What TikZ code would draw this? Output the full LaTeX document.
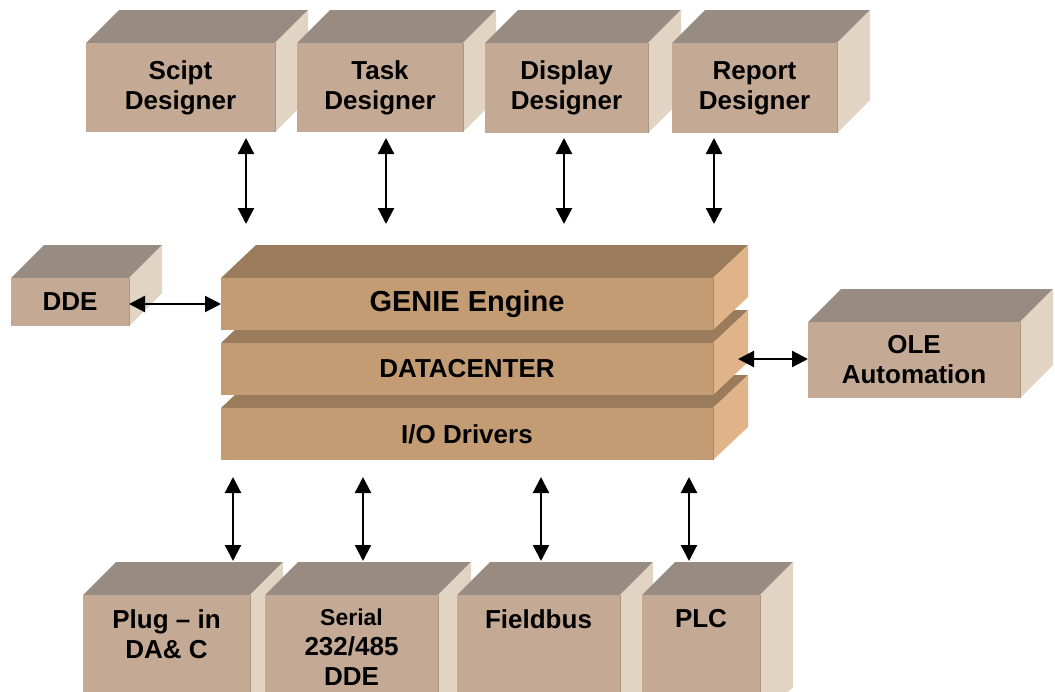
\documentclass[tikz,border=0pt]{standalone}
\usepackage{fontspec}
\setmainfont{Liberation Sans}
\usetikzlibrary{arrows.meta}

\definecolor{boxtop}{RGB}{152,140,130}
\definecolor{boxfront}{RGB}{196,170,148}
\definecolor{boxside}{RGB}{226,212,194}
\definecolor{coretop}{RGB}{154,123,92}
\definecolor{corefront}{RGB}{196,156,116}
\definecolor{coreside}{RGB}{224,180,136}

\tikzset{
  face/.style={inner sep=0, outer sep=0, draw=none},
  lbl/.style={font=\bfseries\fontsize{26}{30}\selectfont, align=center, inner xsep=0, inner ysep=14pt},
  link/.style={{Triangle[width=16pt,length=16pt]}-{Triangle[width=16pt,length=16pt]}, line width=2.3pt}
}

\def\bdx{33}
% 3D block: [text anchor]{name}{x1}{y1}{x2}{y2}{colour set}{text}
\newcommand{\block}[8][center]{%
  \fill[#7top] (#3,#4) -- (#3+\bdx,#4-33) -- (#5+\bdx,#4-33) -- (#5,#4) -- cycle;
  \fill[#7side] (#5,#4) -- (#5+\bdx,#4-33) -- (#5+\bdx,#6-33) -- (#5,#6) -- cycle;
  \node[face, fill=#7front, minimum width={#5-#3}, minimum height={#6-#4}] (#2) at ({(#3+#5)/2},{(#4+#6)/2}) {};
  \draw[#7front!88!black, line width=1pt] (#2.north east) -- (#2.south east);
  \node[lbl, anchor=#1] (#2-t) at (#2.#1) {#8};
}

\begin{document}
\begin{tikzpicture}[x=1pt, y=-1pt]
  \useasboundingbox (0,0) rectangle (1055,691);
  \clip (0,0) rectangle (1055,691);

  % designers
  \block{sd}{86}{43}{275}{132}{box}{Scipt\\Designer}
  \block{td}{297}{43}{463}{132}{box}{Task\\Designer}
  \block{dd}{485}{43}{648}{133}{box}{Display\\Designer}
  \block{rd}{672}{43}{837}{133}{box}{Report\\Designer}

  % side blocks
  \block{dde}{11}{278}{129}{326}{box}{DDE}
  \block{ole}{808}{322}{1020}{398}{box}{OLE\\Automation}

  % core stack, lowest layer first
  \def\bdx{35}
  \block{io}{221}{408}{713}{460}{core}{I/O Drivers}
  \block{data}{221}{343}{713}{395}{core}{DATACENTER}
  \block{genie}{221}{278}{713}{330}{core}{\fontsize{29}{33}\selectfont GENIE Engine}
  \def\bdx{33}

  % devices
  \block[north]{pi}{83}{595}{250}{720}{box}{Plug -- in\\DA\& C}
  \block[north]{se}{265}{595}{438}{720}{box}{\fontsize{23}{27}\selectfont Serial\\232/485\\DDE}
  \block[north]{fb}{457}{595}{620}{720}{box}{Fieldbus}
  \block[north]{plc}{642}{595}{760}{720}{box}{PLC}

  % links
  \foreach \n/\x in {sd/246,td/386,dd/564,rd/714}{
    \coordinate (\n-up) at (\x,138);
    \coordinate (\n-dn) at (\x,224);
    \draw[link] (\n-up) -- (\n-dn);
  }
  \foreach \n/\x in {pi/233,se/363,fb/541,plc/689}{
    \coordinate (\n-up) at (\x,477);
    \coordinate (\n-dn) at (\x,561);
    \draw[link] (\n-up) -- (\n-dn);
  }
  \draw[link] ([yshift=-2pt]dde.east) -- ([yshift=-2pt]dde.east -| genie.west);
  \coordinate (oletip) at (738,359);
  \draw[link] (oletip) -- (oletip -| ole.west);
\end{tikzpicture}
\end{document}
